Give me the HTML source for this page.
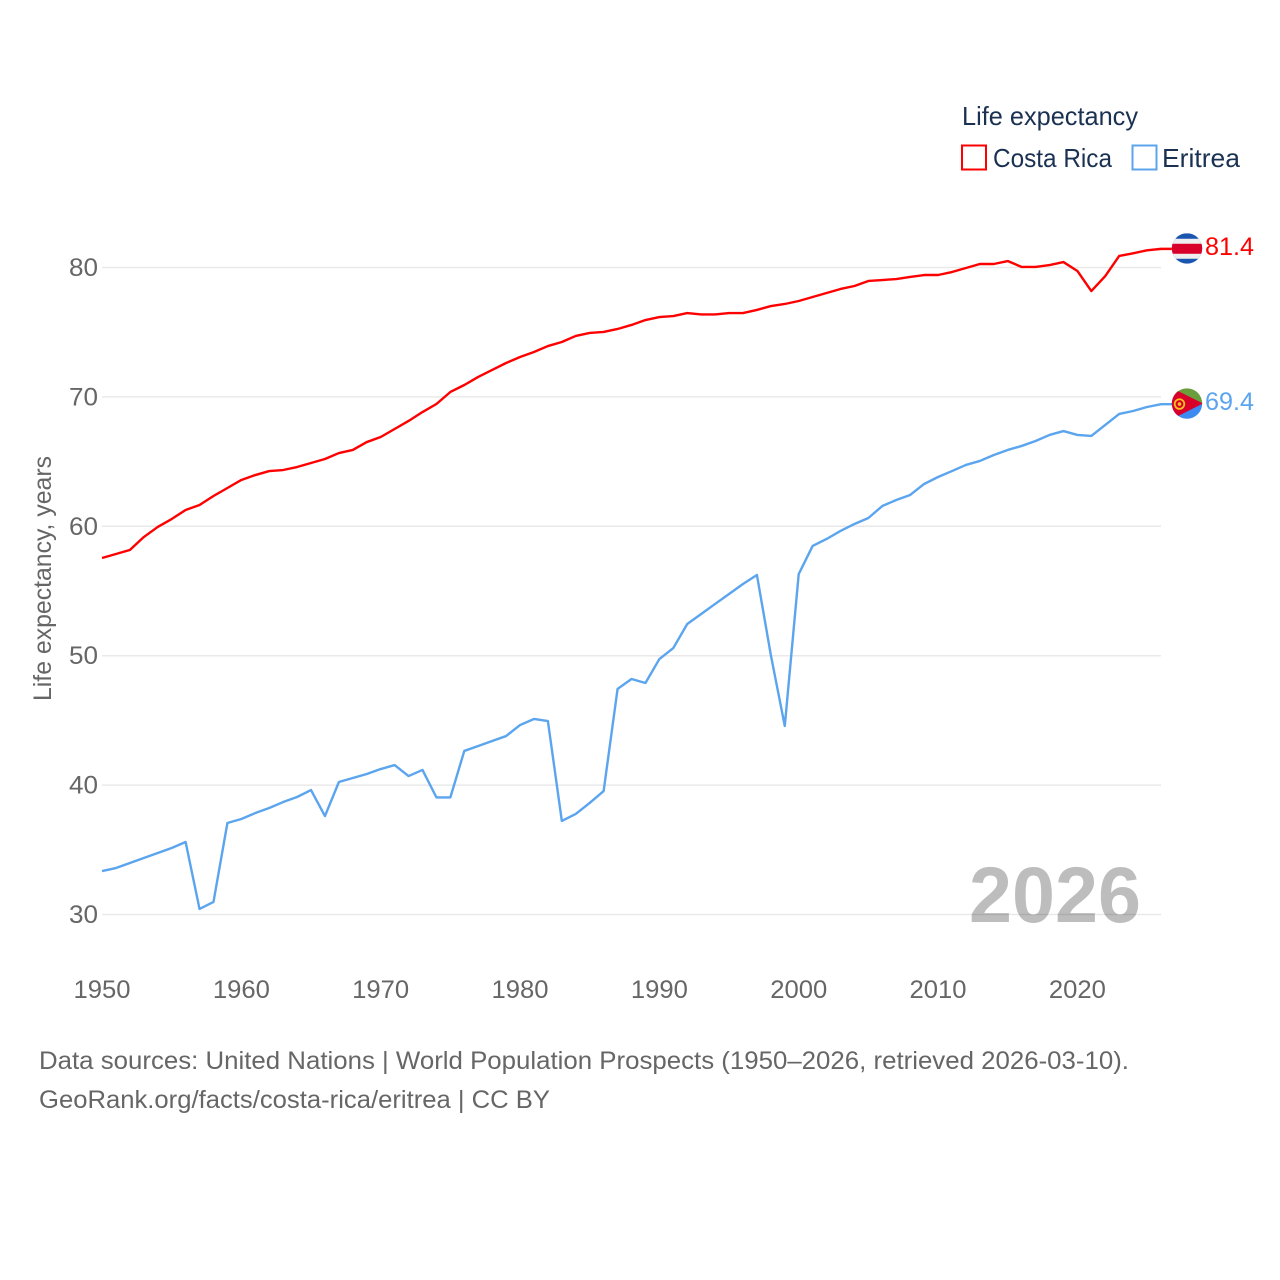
<!DOCTYPE html>
<html lang="en">
<head>
<meta charset="utf-8">
<title>Life expectancy: Costa Rica vs Eritrea</title>
<style>
html,body{margin:0;padding:0;background:#fff;width:1280px;height:1280px;overflow:hidden}
svg{display:block;font-family:"Liberation Sans",sans-serif}
</style>
</head>
<body>
<svg id="chart" xmlns="http://www.w3.org/2000/svg" width="1280" height="1280" viewBox="0 0 1280 1280">
  <rect width="1280" height="1280" fill="#fff"/>
  <g id="grid"></g>
  <g id="yticks"></g>
  <g id="xticks"></g>
  <text transform="translate(51,701) rotate(-90)" font-size="25" fill="#666" textLength="245" lengthAdjust="spacingAndGlyphs">Life expectancy, years</text>
  <text id="year" x="969" y="922" font-size="79" font-weight="700" fill="#000" fill-opacity="0.26" textLength="172" lengthAdjust="spacingAndGlyphs">2026</text>
  <g id="series"></g>

  <g>
    <text x="962" y="125" font-size="26" fill="#1a3152" textLength="176" lengthAdjust="spacingAndGlyphs">Life expectancy</text>
    <rect x="962" y="145.5" width="24" height="24" fill="none" stroke="#ff0000" stroke-width="2"/>
    <text x="993" y="167" font-size="26" fill="#1a3152" textLength="119" lengthAdjust="spacingAndGlyphs">Costa Rica</text>
    <rect x="1132.5" y="145.5" width="24" height="24" fill="none" stroke="#5ba4ee" stroke-width="2"/>
    <text x="1162" y="167" font-size="26" fill="#1a3152" textLength="78" lengthAdjust="spacingAndGlyphs">Eritrea</text>
  </g>

  <text x="39" y="1069" font-size="25" fill="#666" textLength="1090" lengthAdjust="spacingAndGlyphs">Data sources: United Nations | World Population Prospects (1950–2026, retrieved 2026-03-10).</text>
  <text x="39" y="1108" font-size="25" fill="#666" textLength="511" lengthAdjust="spacingAndGlyphs">GeoRank.org/facts/costa-rica/eritrea | CC BY</text>
</svg>
<script>
var startYear = 1950;
var yTickValues = [30, 40, 50, 60, 70, 80];
var xTickValues = [1950, 1960, 1970, 1980, 1990, 2000, 2010, 2020];
var costaRicaValues = [57.55,57.86,58.17,59.17,59.95,60.56,61.26,61.65,62.34,62.96,63.58,63.96,64.27,64.35,64.58,64.89,65.2,65.66,65.9,66.51,66.9,67.52,68.14,68.83,69.45,70.38,70.92,71.54,72.08,72.62,73.08,73.47,73.93,74.24,74.71,74.94,75.02,75.25,75.56,75.94,76.17,76.25,76.48,76.37,76.37,76.48,76.48,76.72,77.02,77.18,77.41,77.72,78.03,78.34,78.57,78.96,79.03,79.11,79.27,79.42,79.42,79.65,79.96,80.27,80.27,80.5,80.04,80.04,80.19,80.42,79.73,78.18,79.34,80.89,81.1,81.33,81.44];
var eritreaValues = [33.36,33.59,33.98,34.37,34.75,35.14,35.6,30.43,30.97,37.07,37.38,37.84,38.23,38.69,39.08,39.62,37.61,40.24,40.55,40.86,41.24,41.55,40.7,41.17,39.05,39.05,42.64,43.02,43.41,43.79,44.64,45.11,44.95,37.23,37.77,38.62,39.54,47.43,48.2,47.89,49.74,50.59,52.45,53.22,54,54.77,55.54,56.24,50.05,44.57,56.31,58.48,59.02,59.64,60.18,60.64,61.57,62.03,62.42,63.27,63.81,64.27,64.74,65.05,65.51,65.9,66.21,66.59,67.06,67.36,67.06,66.98,67.83,68.68,68.91,69.22,69.44];

var NS = 'http://www.w3.org/2000/svg';
var PLOT_LEFT = 102, PLOT_RIGHT = 1161;
var X_MIN = 1950, X_MAX = 2026;
var Y_TOP_VALUE = 80, Y_TOP_PX = 267.5, Y_BOTTOM_VALUE = 30, Y_BOTTOM_PX = 914.5;
var RED = '#ff0000', BLUE = '#5ba4ee';

function xScale(year) {
  return PLOT_LEFT + (year - X_MIN) * (PLOT_RIGHT - PLOT_LEFT) / (X_MAX - X_MIN);
}
function yScale(v) {
  return Y_BOTTOM_PX + (v - Y_BOTTOM_VALUE) * (Y_TOP_PX - Y_BOTTOM_PX) / (Y_TOP_VALUE - Y_BOTTOM_VALUE);
}
function make(tag, attrs, parent) {
  var el = document.createElementNS(NS, tag);
  for (var k in attrs) el.setAttribute(k, attrs[k]);
  parent.appendChild(el);
  return el;
}

var grid = document.getElementById('grid');
var yticks = document.getElementById('yticks');
var xticks = document.getElementById('xticks');
var root = document.getElementById('chart');
var seriesGroup = document.getElementById('series');

yTickValues.forEach(function (v) {
  var line = make('line', {x1: PLOT_LEFT, x2: PLOT_RIGHT, y1: yScale(v), y2: yScale(v), stroke: '#e9e9e9', 'stroke-width': 1.5}, grid);
  
  
  var t = make('text', {x: 98, y: yScale(v) + 8.5, 'text-anchor': 'end', 'font-size': 25, fill: '#666', textLength: 29, lengthAdjust: 'spacingAndGlyphs'}, yticks);
  
  
  t.textContent = v;
});

xTickValues.forEach(function (year) {
  var t = make('text', {x: xScale(year) - 28.5, y: 998, 'font-size': 25, fill: '#666', textLength: 57, lengthAdjust: 'spacingAndGlyphs'}, xticks);
  
  
  t.textContent = year;
});

function drawSeries(values, color, name) {
  var pts = values.map(function (v, i) {
    return xScale(startYear + i).toFixed(2) + ',' + yScale(v).toFixed(2);
  });
  var lastY = yScale(values[values.length - 1]);
  pts.push('1172,' + lastY.toFixed(2));
  var line = make('polyline', {points: pts.join(' '), fill: 'none', stroke: color, 'stroke-width': 2.4, 'stroke-linejoin': 'round'}, seriesGroup);
  
  
  var label = make('text', {x: 1205, y: lastY + 6, 'font-size': 25, fill: color, textLength: 49, lengthAdjust: 'spacingAndGlyphs'}, root);
  
  
  label.textContent = values[values.length - 1].toFixed(1);
  return lastY;
}

var crY = drawSeries(costaRicaValues, RED, 'costa-rica');
var erY = drawSeries(eritreaValues, BLUE, 'eritrea');

function flagGroup(name, cy, clipId) {
  var cx = 1187, r = 15.2;
  var defs = make('defs', {}, root);
  var clip = make('clipPath', {id: clipId}, defs);
  make('circle', {cx: cx, cy: cy, r: r}, clip);
  var g = make('g', {'clip-path': 'url(#' + clipId + ')', transform: 'translate(0,0)'}, root);
  
  
  return g;
}

var crFlag = flagGroup('costa-rica-flag', crY - 0.4, 'clip-cr');
var crTop = crY - 0.4 - 15.2;
make('rect', {x: 1171, y: crTop, width: 32, height: 31, fill: '#1a56b0'}, crFlag);
make('rect', {x: 1171, y: crTop + 5.5, width: 32, height: 20, fill: '#eeeeee'}, crFlag);
make('rect', {x: 1171, y: crTop + 10.5, width: 32, height: 10, fill: '#d8002b'}, crFlag);

var erFlag = flagGroup('eritrea-flag', erY - 0.6, 'clip-er');
var erC = erY - 0.6;
make('rect', {x: 1171, y: erC - 16, width: 32, height: 16, fill: '#6a9e3c'}, erFlag);
make('rect', {x: 1171, y: erC, width: 32, height: 16, fill: '#3b8bf0'}, erFlag);
make('polygon', {points: '1171,' + (erC - 16) + ' 1203,' + erC + ' 1171,' + (erC + 16), fill: '#d8002b'}, erFlag);
make('circle', {cx: 1179.5, cy: erC + 0.5, r: 4.8, fill: 'none', stroke: '#f3c21f', 'stroke-width': 1.8}, erFlag);
make('circle', {cx: 1179.5, cy: erC + 0.5, r: 1.8, fill: '#f3c21f'}, erFlag);
</script>
</body>
</html>
